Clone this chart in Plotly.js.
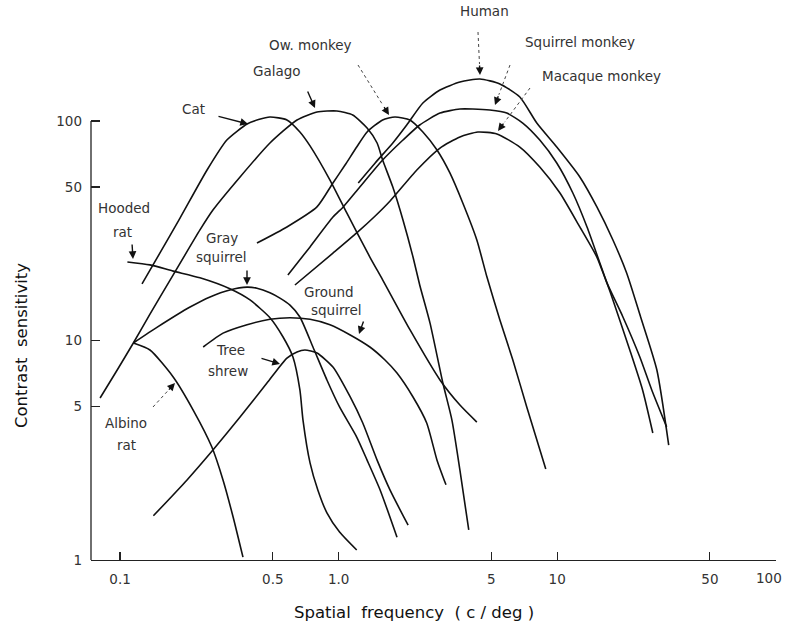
<!DOCTYPE html>
<html><head><meta charset="utf-8">
<script src="https://cdn.plot.ly/plotly-3.0.1.min.js"></script>
<style>html,body{margin:0;padding:0;background:#fff;}#chart{width:786px;height:632px;}</style>
</head><body><div id="chart"></div>
<script>
// Axis ticks (the "100" label at the right end is set as an annotation so it stays inside the page)
const xTickVals = [0.1, 0.5, 1, 5, 10, 50, 100];
const xTickText = ["0.1", "0.5", "1.0", "5", "10", "50", ""];
const xEndLabel = "100";
const yTickVals = [1, 5, 10, 50, 100];
const yTickText = ["1", "5", "10", "50", "100"];

// Spatial frequency (c/deg) and contrast sensitivity
const catFreq = [0.126,0.152,0.188,0.250,0.308,0.381,0.430,0.485,0.580,0.665,0.740,0.913,1.09,1.39,1.59,2.12,2.91,3.59,4.29];
const catSens = [18.1,25.0,36.1,59.8,81.9,96.9,101.5,104.3,101.1,89.1,77.0,53.8,38.1,24.0,18.9,11.2,6.61,5.08,4.25];

const galagoFreq = [0.081,0.097,0.115,0.137,0.175,0.232,0.266,0.354,0.485,0.645,0.796,0.982,1.16,1.35,1.50,1.59,1.77,1.97,2.19,2.35,2.62,3.00,3.30,3.59,3.94];
const galagoSens = [5.47,7.34,9.74,13.2,19.9,31.9,39.3,55.6,79.4,101.1,109.9,111.1,106.5,92.9,79.4,66.4,50.0,35.4,24.0,17.9,12.0,6.40,4.34,2.57,1.37];

const owlFreq = [0.423,0.580,0.796,0.942,1.07,1.21,1.35,1.59,1.81,2.12,2.43,2.82,3.23,3.70,4.29,4.77,5.47,6.27,7.26,8.87];
const owlSens = [27.8,32.9,40.6,52.2,63.0,76.1,89.1,101.1,104.3,101.1,89.1,73.8,58.0,42.3,28.7,19.5,12.4,8.15,4.98,2.60];

const humanFreq = [1.23,1.47,1.77,2.05,2.43,2.91,3.59,4.43,5.47,6.75,8.07,9.96,12.7,15.2,18.0,20.8,24.1,28.6,32.4];
const humanSens = [52.2,64.4,79.4,95.9,120.8,138.4,150.5,155.4,147.5,128.6,97.9,76.1,55.6,40.6,28.7,20.3,12.8,7.34,3.34];

const squirrelMonkeyFreq = [0.586,0.740,0.942,1.05,1.25,1.59,1.97,2.35,2.91,3.59,4.11,4.92,5.88,6.96,8.33,9.96,11.8,13.7,15.7,16.9,18.0,21.5,24.6,27.4];
const squirrelMonkeySens = [19.9,26.7,36.5,40.6,50.0,66.4,81.9,95.9,108.7,113.4,113.4,112.2,108.7,97.9,81.9,64.4,47.0,32.9,22.5,18.3,15.3,9.05,5.95,3.79];

const macaqueFreq = [0.631,0.942,1.21,1.47,1.72,2.28,2.91,3.59,4.34,5.30,6.75,8.33,10.3,12.7,15.2,16.9,20.0,23.9,27.1,31.7];
const macaqueSens = [17.9,25.0,30.9,36.9,43.2,59.8,75.3,84.6,89.1,87.3,76.1,61.7,47.0,32.9,24.0,18.3,12.8,8.41,5.95,4.04];

const hoodedRatFreq = [0.108,0.137,0.175,0.232,0.318,0.393,0.485,0.556,0.618,0.665,0.687,0.740,0.804,0.884,1.01,1.21];
const hoodedRatSens = [22.8,22.1,20.7,19.3,17.2,15.3,12.7,10.4,8.41,5.95,4.34,2.77,2.08,1.64,1.34,1.11];

const graySquirrelFreq = [0.115,0.148,0.209,0.258,0.318,0.381,0.423,0.485,0.539,0.599,0.665,0.763,0.884,1.01,1.21,1.35,1.55,1.85];
const graySquirrelSens = [9.74,11.5,14.2,15.8,17.0,17.5,17.3,16.5,15.6,14.5,12.8,9.34,6.61,4.98,3.63,2.85,2.08,1.27];

const groundSquirrelFreq = [0.240,0.296,0.381,0.485,0.599,0.740,0.913,1.13,1.39,1.63,1.85,2.19,2.53,2.82,3.10];
const groundSquirrelSens = [9.34,10.8,11.8,12.5,12.7,12.5,11.8,10.6,9.34,8.15,7.11,5.53,4.21,2.85,2.20];

const treeShrewFreq = [0.142,0.202,0.266,0.354,0.470,0.580,0.645,0.701,0.796,0.942,1.13,1.29,1.50,1.72,2.08];
const treeShrewSens = [1.59,2.31,3.17,4.48,6.40,8.32,8.87,9.05,8.77,7.57,5.53,4.21,2.85,2.08,1.44];

const albinoRatFreq = [0.115,0.137,0.175,0.216,0.263,0.296,0.329,0.365];
const albinoRatSens = [9.74,9.05,6.82,4.82,3.27,2.31,1.57,1.03];

const series = [
  ["Cat", catFreq, catSens],
  ["Galago", galagoFreq, galagoSens],
  ["Ow. monkey", owlFreq, owlSens],
  ["Human", humanFreq, humanSens],
  ["Squirrel monkey", squirrelMonkeyFreq, squirrelMonkeySens],
  ["Macaque monkey", macaqueFreq, macaqueSens],
  ["Hooded rat", hoodedRatFreq, hoodedRatSens],
  ["Gray squirrel", graySquirrelFreq, graySquirrelSens],
  ["Ground squirrel", groundSquirrelFreq, groundSquirrelSens],
  ["Tree shrew", treeShrewFreq, treeShrewSens],
  ["Albino rat", albinoRatFreq, albinoRatSens]
];

const traces = series.map(s => ({
  type: "scatter", mode: "lines", name: s[0], x: s[1], y: s[2],
  line: {color: "#111", width: 1.6, shape: "spline", smoothing: 0.6},
  hoverinfo: "name"
}));

// layout geometry (plot area in px)
const W = 786, H = 632, L = 91, R = 10, T = 22, B = 72;
const PW = W - L - R, PH = H - T - B;
const px = v => (v - L) / PW;
const py = v => (H - B - v) / PH;

const labelFont = {family: "DejaVu Sans, Liberation Sans, sans-serif", size: 13.5, color: "#333"};
const labels = [
  ["Human", 484, 11], ["Squirrel monkey", 580, 42], ["Macaque monkey", 601, 76],
  ["Ow. monkey", 310, 45], ["Galago", 277, 71], ["Cat", 193, 109],
  ["Hooded", 124, 208], ["rat", 122, 232], ["Gray", 222, 238], ["squirrel", 221, 257],
  ["Ground", 329, 292], ["squirrel", 336, 310], ["Tree", 230, 350], ["shrew", 228, 371],
  ["Albino", 126, 423], ["rat", 126, 445]
];
const annotations = labels.map(l => ({
  text: l[0], xref: "paper", yref: "paper", x: px(l[1]), y: py(l[2]),
  xanchor: "center", yanchor: "middle", showarrow: false, font: labelFont
}));

// arrows: [tipX, tipY, tailX, tailY, dotted]
const arrows = [
  [315,108,307,90,false], [248,124,217,116,false], [133,259,132,243,false],
  [247,285,247,269,false], [359,334,364,320,false], [280,364,260,358,false],
  [480,75,478,32,true], [495,105,510,65,true], [498,131,530,88,true],
  [389,115,358,65,true], [175,383,153,407,true]
];
const shapes = [];
arrows.forEach(a => {
  const [tx, ty, sx, sy, dotted] = a;
  let hx = sx, hy = sy;
  if (dotted) {
    const dx = sx - tx, dy = sy - ty, d = Math.hypot(dx, dy);
    hx = tx + dx / d * 11; hy = ty + dy / d * 11;
    shapes.push({type: "line", xref: "paper", yref: "paper",
      x0: px(sx), y0: py(sy), x1: px(hx), y1: py(hy),
      line: {color: "#444", width: 1, dash: "dot"}});
  }
  annotations.push({text: "", xref: "paper", yref: "paper", x: px(tx), y: py(ty),
    ax: hx - tx, ay: hy - ty, showarrow: true, arrowhead: 2, arrowsize: 1.1,
    arrowwidth: 1.4, arrowcolor: "#111", standoff: 0});
});

// y axis line only from 1 to 100
shapes.push({type: "line", xref: "paper", yref: "y", x0: 0, x1: 0, y0: 1, y1: 100,
  line: {color: "#222", width: 1.3}});

const tickFont = {family: "DejaVu Sans, Liberation Sans, sans-serif", size: 13.5, color: "#333"};

// "100" at the right end of the x axis
annotations.push({text: xEndLabel, xref: "paper", yref: "paper", x: px(784), y: py(578),
  xanchor: "right", yanchor: "middle", showarrow: false, font: tickFont});

// axis titles
annotations.push({text: "Contrast  sensitivity", xref: "paper", yref: "paper",
  x: px(22), y: py(346), textangle: -90, showarrow: false, xanchor: "center", yanchor: "middle",
  font: {family: "DejaVu Sans, sans-serif", size: 16.5, color: "#111"}});
annotations.push({text: "Spatial  frequency  ( c / deg )", xref: "paper", yref: "paper",
  x: px(414), y: py(612), showarrow: false, xanchor: "center", yanchor: "middle",
  font: {family: "DejaVu Sans, sans-serif", size: 16.5, color: "#111"}});

const layout = {
  width: W, height: H, margin: {l: L, r: R, t: T, b: B},
  paper_bgcolor: "#fff", plot_bgcolor: "#fff", showlegend: false,
  xaxis: {type: "log", range: [Math.log10(0.0736), 2.0015], tickvals: xTickVals, ticktext: xTickText,
    ticks: "inside", ticklen: 8, tickwidth: 1.2, tickcolor: "#222", showgrid: false, zeroline: false,
    showline: true, linecolor: "#222", linewidth: 1.3, tickfont: tickFont, ticklabelstandoff: 6},
  yaxis: {type: "log", range: [0, 2.451], tickvals: yTickVals, ticktext: yTickText,
    ticks: "inside", ticklen: 9, tickwidth: 1.2, tickcolor: "#222", showgrid: false, zeroline: false,
    showline: false, tickfont: tickFont, ticklabelstandoff: 8},
  annotations: annotations, shapes: shapes
};
Plotly.newPlot("chart", traces, layout, {displayModeBar: false, staticPlot: true});
</script></body></html>
